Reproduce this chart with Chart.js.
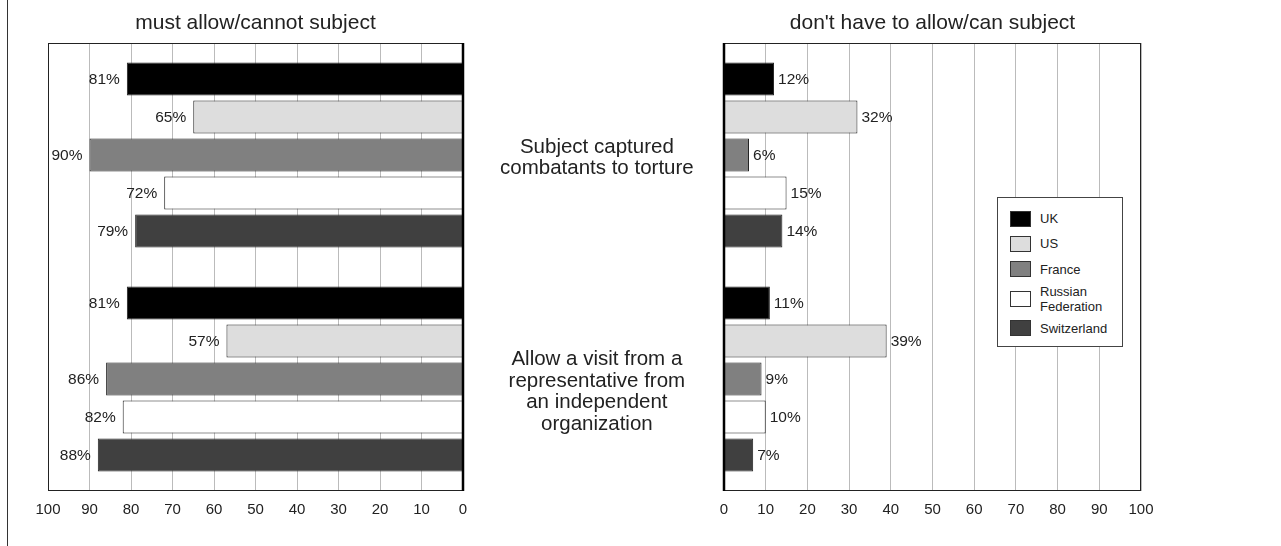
<!DOCTYPE html>
<html>
<head>
<meta charset="utf-8">
<script src="https://cdn.jsdelivr.net/npm/chart.js@4.4.0/dist/chart.umd.min.js"></script>
<style>
    body { margin: 0; background: #fff; width: 1281px; height: 546px; position: relative; overflow: hidden; font-family: "Liberation Sans", Arial, sans-serif; }
    #sideLine { position: absolute; left: 7px; top: 0; width: 1px; height: 546px; background: #333; }
    #leftChart { position: absolute; left: 0; top: 0; }
    #rightChart { position: absolute; left: 700px; top: 0; }
    #legend { position: absolute; left: 997px; top: 197px; width: 126px; height: 150px; box-sizing: border-box; border: 1px solid #444; background: #fff; padding-top: 8px; }
    .item { display: flex; align-items: center; font-size: 13px; line-height: 15px; color: #222; }
    .swatch { width: 21px; height: 16px; margin-left: 12px; margin-right: 9px; border: 1px solid #333; box-sizing: border-box; flex: none; }
</style>
</head>
<body>
<div id="sideLine"></div>
<canvas id="leftChart" width="720" height="546"></canvas>
<canvas id="rightChart" width="581" height="546"></canvas>
<div id="legend"></div>
<script>
const categories = [
    ['Subject captured', 'combatants to torture'],
    ['Allow a visit from a', 'representative from', 'an independent', 'organization']
];
const countries = ['UK', 'US', 'France', 'Russian Federation', 'Switzerland'];
// must allow / cannot subject
const ukMust = [81, 81];
const usMust = [65, 57];
const franceMust = [90, 86];
const russiaMust = [72, 82];
const swissMust = [79, 88];
// don't have to allow / can subject
const ukCan = [12, 11];
const usCan = [32, 39];
const franceCan = [6, 9];
const russiaCan = [15, 10];
const swissCan = [14, 7];

const barColors = ['#000000', '#dddddd', '#808080', '#ffffff', '#404040'];
const textColor = '#222';

Chart.defaults.font.family = '"Liberation Sans", Arial, sans-serif';
Chart.defaults.color = textColor;

// percentage labels next to each bar end
const valueLabels = {
    id: 'valueLabels',
    afterDatasetsDraw(chart, args, opts) {
        const ctx = chart.ctx;
        ctx.save();
        ctx.font = '15.5px "Liberation Sans", Arial, sans-serif';
        ctx.fillStyle = textColor;
        ctx.textBaseline = 'middle';
        chart.data.datasets.forEach((ds, i) => {
            chart.getDatasetMeta(i).data.forEach((bar, j) => {
                const text = ds.data[j] + '%';
                if (opts.side === 'left') {
                    ctx.textAlign = 'right';
                    ctx.fillText(text, bar.x - 7, bar.y + 1);
                } else {
                    ctx.textAlign = 'left';
                    ctx.fillText(text, bar.x + 4, bar.y + 1);
                }
            });
        });
        ctx.restore();
    }
};

// box round the plot and the heavy zero line
const frame = {
    id: 'frame',
    beforeDatasetsDraw(chart) {
        const {left, right, top, bottom} = chart.chartArea;
        const ctx = chart.ctx;
        ctx.save();
        ctx.strokeStyle = '#222';
        ctx.lineWidth = 1;
        ctx.strokeRect(Math.round(left) + 0.5, Math.round(top) + 0.5, Math.round(right - left) - 1, Math.round(bottom - top) - 1);
        ctx.restore();
    },
    afterDatasetsDraw(chart) {
        const {top, bottom} = chart.chartArea;
        const zx = chart.scales.x.getPixelForValue(0);
        const ctx = chart.ctx;
        ctx.save();
        ctx.strokeStyle = '#000';
        ctx.lineWidth = 2.5;
        ctx.beginPath();
        ctx.moveTo(zx, top);
        ctx.lineTo(zx, bottom);
        ctx.stroke();
        ctx.restore();
    }
};

// nudge the middle category labels down a little, as in the original
const labelNudge = {
    id: 'labelNudge',
    beforeDraw(chart, args, opts) {
        const scale = chart.scales.y;
        if (!scale || !scale.options.display) return;
        scale.getLabelItems(chart.chartArea).forEach((item, i) => {
            if (!item._nudged) {
                item.options.translation[1] += opts.offsets[i] || 0;
                item._nudged = true;
            }
        });
    }
};

function makeDatasets(series) {
    return series.map((values, i) => ({
        label: countries[i],
        data: values,
        backgroundColor: barColors[i],
        borderColor: '#222',
        borderWidth: 1,
        borderSkipped: 'start',
        barPercentage: 0.87,
        categoryPercentage: 0.848
    }));
}

function xScale(reverse) {
    return {
        reverse: reverse,
        min: 0,
        max: 100,
        ticks: { stepSize: 10, padding: 10, font: { size: 15 }, color: textColor },
        grid: { color: '#bbbbbb', drawTicks: false },
        border: { display: false },
        afterFit(scale) { scale.height = 55; }
    };
}

function titleOptions(text) {
    return {
        display: true,
        text: text,
        fullSize: false,
        color: textColor,
        font: { size: 21, weight: 'normal' },
        padding: { top: 11, bottom: 6.8 }
    };
}

new Chart(document.getElementById('leftChart'), {
    type: 'bar',
    data: {
        labels: categories,
        datasets: makeDatasets([ukMust, usMust, franceMust, russiaMust, swissMust])
    },
    options: {
        indexAxis: 'y',
        responsive: false,
        animation: false,
        layout: { padding: { left: 48, right: 0, top: 0, bottom: 0 } },
        scales: {
            x: xScale(true),
            y: {
                position: 'right',
                grid: { display: false, drawTicks: false },
                border: { display: false },
                ticks: { crossAlign: 'center', padding: 37, color: textColor, font: { size: 20.5, lineHeight: 1.05 } },
                afterFit(scale) {
                    scale.width = 257;
                    // keep the tall labels from pushing the plot area in
                    scale.paddingTop = 0;
                    scale.paddingBottom = 0;
                }
            }
        },
        plugins: {
            legend: { display: false },
            tooltip: { enabled: false },
            title: titleOptions('must allow/cannot subject'),
            valueLabels: { side: 'left' },
            labelNudge: { offsets: [3, 13] }
        }
    },
    plugins: [frame, valueLabels, labelNudge]
});

new Chart(document.getElementById('rightChart'), {
    type: 'bar',
    data: {
        labels: categories,
        datasets: makeDatasets([ukCan, usCan, franceCan, russiaCan, swissCan])
    },
    options: {
        indexAxis: 'y',
        responsive: false,
        animation: false,
        layout: { padding: { left: 24, right: 140, top: 0, bottom: 0 } },
        scales: {
            x: xScale(false),
            y: { display: false }
        },
        plugins: {
            legend: { display: false },
            tooltip: { enabled: false },
            title: titleOptions("don't have to allow/can subject"),
            valueLabels: { side: 'right' }
        }
    },
    plugins: [frame, valueLabels]
});

// legend box inside the right plot
const rowHeights = [25, 25, 26, 34, 24];
const legend = document.getElementById('legend');
countries.forEach((name, i) => {
    const row = document.createElement('div');
    row.className = 'item';
    row.style.height = rowHeights[i] + 'px';
    const sw = document.createElement('span');
    sw.className = 'swatch';
    sw.style.background = barColors[i];
    const label = document.createElement('span');
    label.innerHTML = name === 'Russian Federation' ? 'Russian<br>Federation' : name;
    row.appendChild(sw);
    row.appendChild(label);
    legend.appendChild(row);
});
</script>
</body>
</html>
